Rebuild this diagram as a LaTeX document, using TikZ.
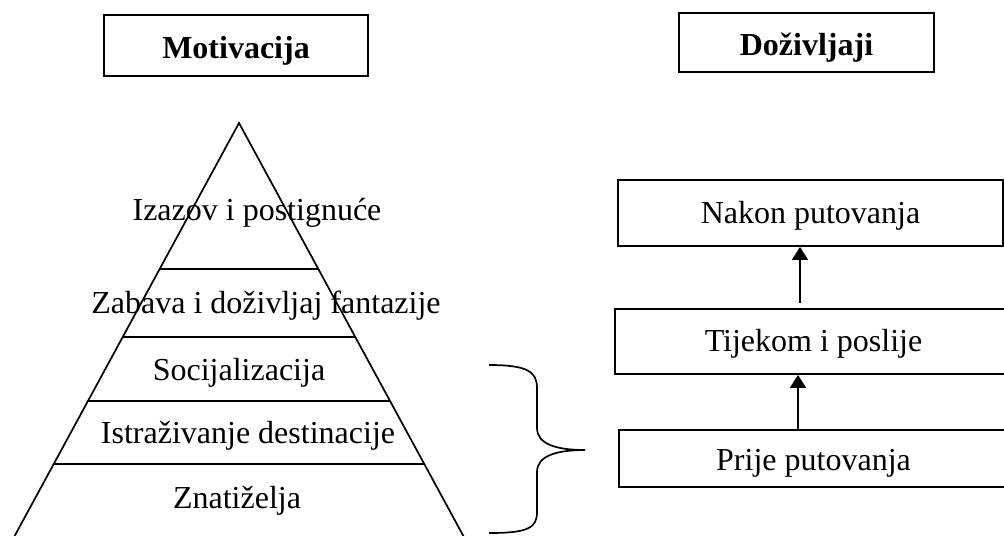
\documentclass[tikz,border=0pt]{standalone}
\usepackage{fontspec}
\setmainfont{Liberation Serif}
\usetikzlibrary{positioning, calc, arrows.meta}

\begin{document}
\begin{tikzpicture}[
  x=0.5pt, y=-0.5pt,
  font=\fontsize{16}{19}\selectfont,
  >={Triangle[length=6.5pt,width=8pt]},
  titlebox/.style={draw, line width=0.9pt, inner sep=0pt, text height=13pt, text depth=0pt,
    font=\fontsize{16}{19}\selectfont\bfseries},
  stagebox/.style={draw, line width=0.9pt, inner sep=0pt, text height=14pt, text depth=4pt},
  lvl/.style={inner sep=0pt, anchor=base},
  pyr/.style={line width=0.85pt},
]
\useasboundingbox (0,0) rectangle (1004,535);

% =====================================================================
% Titles
% =====================================================================
\node[titlebox, minimum width=132pt, minimum height=30.5pt] (motiv) at (236,45.5) {Motivacija};
\node[titlebox, minimum width=127.5pt, minimum height=29.5pt] (dozivl) at (806.5,42.5) {Doživljaji};

% =====================================================================
% Pyramid of motives (sides run off the bottom edge)
% =====================================================================
\coordinate (apex) at (239,123);
\pgfmathsetmacro{\slope}{0.544}                      % half width per unit of depth
\draw[pyr] (7,550) -- (apex) -- (471,550);
\foreach \yy in {269, 337, 401, 464}{
  \pgfmathsetmacro{\hw}{(\yy-123)*\slope}
  \draw[pyr] ({239-\hw},\yy) -- ({239+\hw},\yy);
}

% Level labels, top -> bottom
\node[lvl] (izazov)  at (257,220) {Izazov i postignuće};
\node[lvl] (zabava)  at (266,313) {Zabava i doživljaj fantazije};
\node[lvl] (social)  at (239,380) {Socijalizacija};
\node[lvl] (istraz)  at (248,443) {Istraživanje destinacije};
\node[lvl] (znatiz)  at (237,508) {Znatiželja};

% =====================================================================
% Brace grouping the lower levels
% =====================================================================
\draw[pyr]
  (489,365) .. controls (528,365) and (537,372) .. (537,388)
  -- (537,428) .. controls (537,444) and (556,450) .. (585,450)
  .. controls (556,450) and (537,456) .. (537,472)
  -- (537,512) .. controls (537,528) and (528,533) .. (489,533);

% =====================================================================
% Stages of the experience
% =====================================================================
\node[stagebox, minimum width=192.5pt, minimum height=33pt]   (nakon)  at (810.5,213)   {Nakon putovanja};
\node[stagebox, minimum width=198.5pt, minimum height=32.5pt] (tijekom) at (813.5,341.5) {Tijekom i poslije};
\node[stagebox, minimum width=194.5pt, minimum height=28.5pt, text depth=2pt] (prije) at (813.5,458.5) {Prije putovanja};

\coordinate (aUp) at (800,303);
\coordinate (aLo) at (798,430);
\draw[->, line width=0.8pt] (aUp) -- (aUp |- nakon.south);
\draw[->, line width=0.8pt] (aLo) -- (aLo |- tijekom.south);

\end{tikzpicture}
\end{document}
